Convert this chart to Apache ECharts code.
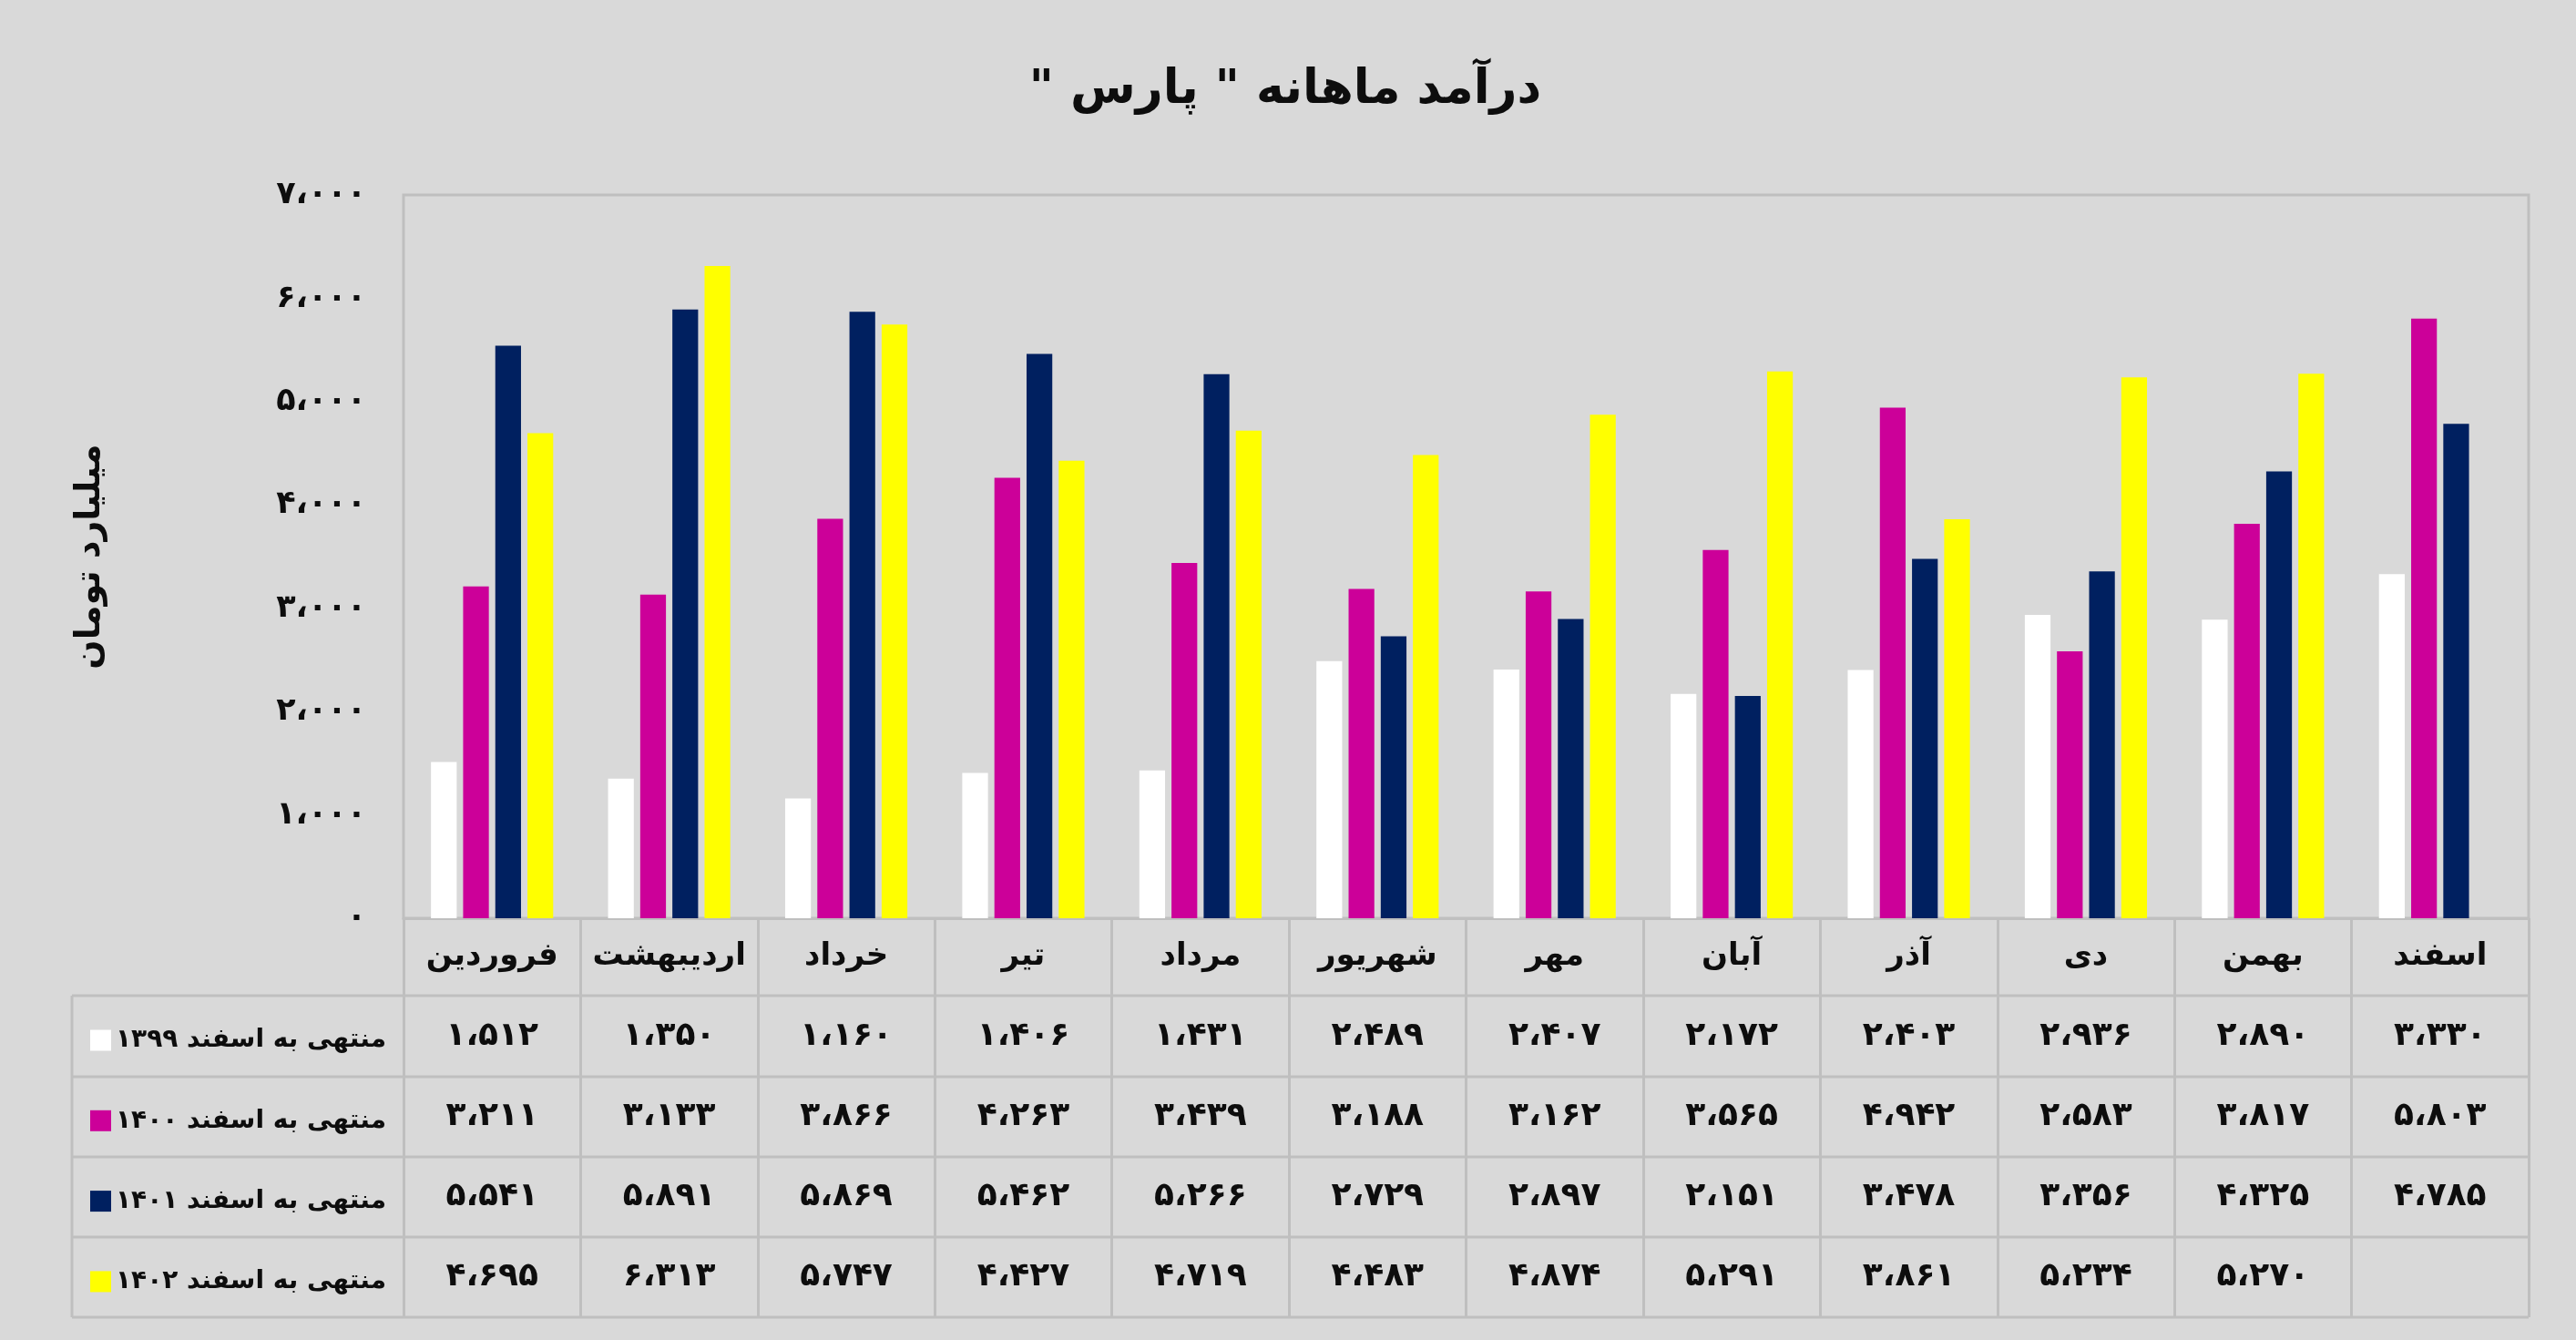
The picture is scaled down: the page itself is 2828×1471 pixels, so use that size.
<!DOCTYPE html>
<html>
<head>
<meta charset="utf-8">
<script src="https://cdn.jsdelivr.net/npm/echarts@6/dist/echarts.min.js"></script>
<style>
html,body{margin:0;padding:0;background:#d9d9d9;}
#c{width:2828px;height:1471px;}
</style>
</head>
<body>
<div id="c"></div>
<script>
// ---------- data ----------
const categories = ['فروردین','اردیبهشت','خرداد','تیر','مرداد','شهریور','مهر','آبان','آذر','دی','بهمن','اسفند'];
const seriesNames = ['منتهی به اسفند ۱۳۹۹','منتهی به اسفند ۱۴۰۰','منتهی به اسفند ۱۴۰۱','منتهی به اسفند ۱۴۰۲'];
const v1399 = [1512,1350,1160,1406,1431,2489,2407,2172,2403,2936,2890,3330];
const v1400 = [3211,3133,3866,4263,3439,3188,3162,3565,4942,2583,3817,5803];
const v1401 = [5541,5891,5869,5462,5266,2729,2897,2151,3478,3356,4325,4785];
const v1402 = [4695,6313,5747,4427,4719,4483,4874,5291,3861,5234,5270,null];
const yMin = 0, yMax = 7000, yInterval = 1000;
const titleText = 'درآمد ماهانه " پارس "\u200F';
const yName = 'میلیارد تومان';
const seriesColors = ['#ffffff','#cc0099','#002060','#ffff00'];

// ---------- helpers ----------
const FA = '۰۱۲۳۴۵۶۷۸۹';
function fa(n){
  if (n === null || n === undefined || n === '') return '';
  return Number(n).toLocaleString('en-US').replace(/[0-9]/g, d => FA[d]).replace(/,/g, '،');
}
const FONT = '"DejaVu Sans", sans-serif';
const TXT = '#0d0d0d';
const LINE = '#bfbfbf';

// layout
const gridL = 443, gridR = 2776, gridT = 214, gridB = 1008;
const tableL = 79, rowTops = [1093, 1182, 1270, 1358, 1446];
const rows = [v1399, v1400, v1401, v1402];

const chart = echarts.init(document.getElementById('c'), null, {renderer:'canvas'});

const xAxes = [{
  type: 'category', data: categories, gridIndex: 0, position: 'bottom',
  axisLine: {show: true, lineStyle: {color: LINE, width: 3}},
  axisTick: {show: true, interval: 0, length: rowTops[4] - gridB, lineStyle: {color: LINE, width: 3}},
  axisLabel: {interval: 0, margin: 42, verticalAlign: 'middle', fontFamily: FONT, fontWeight: 'bold', fontSize: 34, color: TXT},
  splitLine: {show: false}
}];
rows.forEach((r, i) => {
  const centre = (rowTops[i] + rowTops[i+1]) / 2;
  xAxes.push({
    type: 'category', data: categories, gridIndex: 0, position: 'bottom',
    axisLine: {show: false}, axisTick: {show: false}, splitLine: {show: false},
    axisLabel: {interval: 0, margin: centre - gridB, verticalAlign: 'middle',
      fontFamily: FONT, fontWeight: 'bold', fontSize: 36, color: TXT,
      formatter: (val, idx) => fa(r[idx])}
  });
});

const graphics = [
  {type: 'text', x: 1411, y: 99, style: {text: titleText, align: 'center', verticalAlign: 'middle',
    font: 'bold 52px ' + FONT, fill: TXT}},
  {type: 'line', shape: {x1: tableL, y1: rowTops[0], x2: tableL, y2: rowTops[4]}, style: {stroke: LINE, lineWidth: 3}}
];
rowTops.forEach(y => graphics.push({type: 'line', shape: {x1: tableL, y1: y, x2: gridR, y2: y}, style: {stroke: LINE, lineWidth: 3}}));

chart.setOption({
  animation: false,
  backgroundColor: '#d9d9d9',
  grid: {left: gridL, right: 2828 - gridR, top: gridT, bottom: 1471 - gridB, show: true,
    borderColor: LINE, borderWidth: 3, backgroundColor: 'transparent', containLabel: false},
  legend: {
    orient: 'vertical', left: 94, top: 1117, itemWidth: 23, itemHeight: 23, itemGap: 48.3,
    icon: 'rect', data: seriesNames, selectedMode: false,
    textStyle: {fontFamily: FONT, fontWeight: 'bold', fontSize: 28, color: TXT, lineHeight: 40}
  },
  xAxis: xAxes,
  yAxis: {
    type: 'value', min: yMin, max: yMax, interval: yInterval,
    axisLine: {show: false}, axisTick: {show: false}, splitLine: {show: false},
    axisLabel: {formatter: v => fa(v), margin: 41, fontFamily: FONT, fontWeight: 'bold', fontSize: 35, color: TXT},
    name: yName, nameLocation: 'middle', nameGap: gridL - 118, nameRotate: 90,
    nameTextStyle: {fontFamily: FONT, fontWeight: 'bold', fontSize: 38, color: TXT}
  },
  series: rows.map((r, i) => ({
    type: 'bar', name: seriesNames[i], data: r, xAxisIndex: 0,
    barGap: '25%', barCategoryGap: '31%',
    itemStyle: {color: seriesColors[i]}
  })),
  graphic: graphics
});
</script>
</body>
</html>
